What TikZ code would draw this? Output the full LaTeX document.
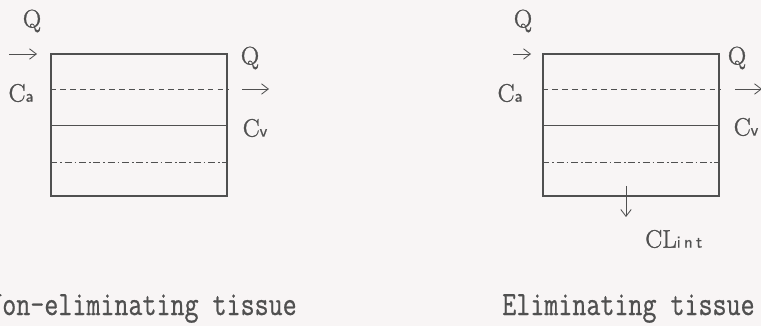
\documentclass[tikz,border=0pt]{standalone}
\usepackage{fontspec}
\usetikzlibrary{arrows.meta,calc}
\newfontfamily\capfont[FakeStretch=0.8,FakeBold=0.6]{Latin Modern Mono}
\newfontfamily\lblfont[FakeBold=1.2]{Latin Modern Roman}
\newfontfamily\subfont[FakeBold=0.8]{Latin Modern Sans}
\definecolor{ink}{RGB}{80,80,80}
\definecolor{paper}{RGB}{248,245,245}
\newcommand\lo[1]{{\subfont\fontsize{12}{12}\selectfont #1}}
\tikzset{
  tissue/.style={draw=ink, line width=0.9pt, minimum width=4.4cm, minimum height=3.55cm, inner sep=0pt},
  flow/.style={draw=ink, line width=0.6pt, -{Straight Barb[length=1.7mm,width=2.6mm]}},
  lbl/.style={text=ink, font=\lblfont\fontsize{18}{20}\selectfont, inner sep=0pt},
  caption/.style={text=ink, font=\capfont\fontsize{24.2}{26}\selectfont, inner sep=0pt},
  % layers inside a box
  half/.style={draw=ink, line width=0.7pt},
  dsh/.style={draw=ink, line width=0.7pt, dash pattern=on 4pt off 3pt},
  dshdot/.style={draw=ink, line width=0.7pt, dash pattern=on 5pt off 2pt on 1.2pt off 2pt}
}
\begin{document}
\begin{tikzpicture}[x=0.025cm, y=-0.025cm]
  \useasboundingbox (0,0) rectangle (761,326);
  \clip (0,0) rectangle (761,326);
  \fill[paper] (0,0) rectangle (761,326);
  \foreach \n/\x in {L/139, R/631}{
    \node[tissue] (box\n) at (\x,125) {};
    \draw[dsh] ($(box\n.north west)!.25!(box\n.south west)$) -- ($(box\n.north east)!.25!(box\n.south east)$);
    \draw[half] ($(box\n.north west)!.5!(box\n.south west)$) -- ($(box\n.north east)!.5!(box\n.south east)$);
    \draw[dshdot] ($(box\n.north west)!.76!(box\n.south west)$) -- ($(box\n.north east)!.76!(box\n.south east)$);
  }
  % non-eliminating
  \coordinate (inL) at (9,54);   \coordinate (inLe) at (37,54);
  \coordinate (outL) at (242,89); \coordinate (outLe) at (269,89);
  \draw[flow] (inL) -- (inLe);
  \draw[flow] (outL) -- (outLe);
  \node[lbl] (qinL) at (32,21) {Q};
  \node[lbl] (caL) at (21,93) {C\lo{a}};
  \node[lbl] (qoutL) at (250,58) {Q};
  \node[lbl] (cvL) at (255,128) {C\lo{v}};
  % eliminating
  \coordinate (inR) at (513,54);  \coordinate (inRe) at (531,54);
  \coordinate (outR) at (735,89); \coordinate (outRe) at (762,89);
  \coordinate (clR) at (626,186); \coordinate (clRe) at (626,217);
  \draw[flow] (inR) -- (inRe);
  \draw[flow] (outR) -- (outRe);
  \draw[flow] (clR) -- (clRe);
  \node[lbl] (qinR) at (523,21) {Q};
  \node[lbl] (caR) at (510,93) {C\lo{a}};
  \node[lbl] (qoutR) at (737,58) {Q};
  \node[lbl] (cvR) at (746,127) {C\lo{v}};
  \node[lbl, anchor=west] (clint) at (645,239) {CL\lo{i\hspace{2.5pt}n\hspace{2.5pt}t}};
  % captions
  \node[caption, anchor=base east] (capL) at (297,315) {Non-eliminating tissue};
  \node[caption, anchor=base west] (capR) at (502,315) {Eliminating tissue};
\end{tikzpicture}
\end{document}
